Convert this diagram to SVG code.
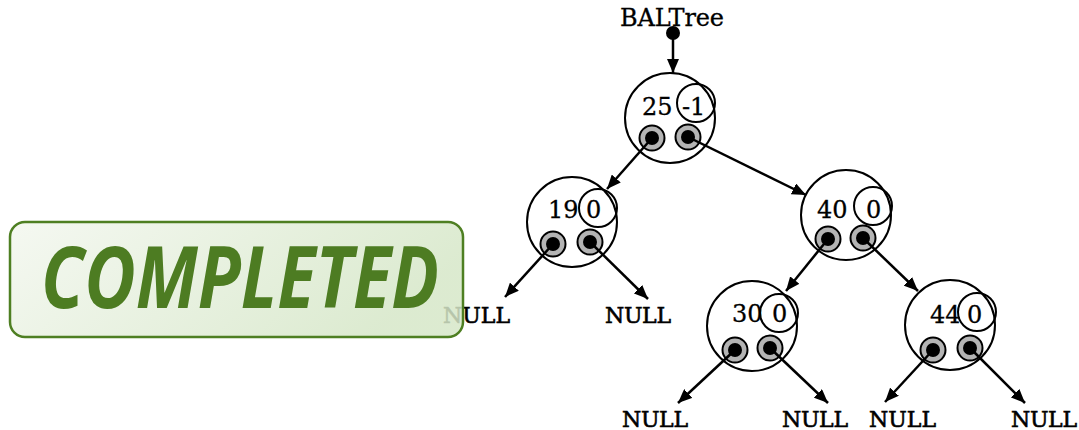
<svg xmlns="http://www.w3.org/2000/svg" width="1079" height="430" viewBox="0 0 1079 430">
<style>
.t{font-family:"DejaVu Serif","Liberation Serif",serif;font-size:24px;fill:#000;stroke:#000;stroke-width:0.3}
.nl{font-family:"DejaVu Serif","Liberation Serif",serif;font-size:22px;fill:#000;stroke:#000;stroke-width:0.6}
.big{fill:#fff;stroke:#000;stroke-width:2}
.bal{fill:none;stroke:#000;stroke-width:2}
.po{fill:#b4b4b4;stroke:#000;stroke-width:2}
.pi{fill:#000}
.e{stroke:#000;stroke-width:2.5;fill:none;marker-end:url(#ah)}
</style>
<defs>
<marker id="ah" markerUnits="userSpaceOnUse" markerWidth="16" markerHeight="12" refX="14" refY="6" orient="auto">
<path d="M0,0 L14,6 L0,12 Z" fill="#000"/>
</marker>
<linearGradient id="g" x1="0" y1="0" x2="1" y2="0.3">
<stop offset="0" stop-color="#f3f7ef"/>
<stop offset="1" stop-color="#d6e7c8"/>
</linearGradient>
</defs>
<rect width="1079" height="430" fill="#fff"/>
<text class="t" x="620" y="26" textLength="104">BALTree</text>
<g id="nulls">
<text class="nl" x="443" y="323" textLength="67">NULL</text>
<text class="nl" x="605" y="323" textLength="66">NULL</text>
<text class="nl" x="622" y="427" textLength="66">NULL</text>
<text class="nl" x="782" y="427" textLength="66">NULL</text>
<text class="nl" x="869" y="427" textLength="67">NULL</text>
<text class="nl" x="1011" y="427" textLength="66">NULL</text>
</g>
<g id="n25">
<circle class="big" cx="670" cy="118" r="45"/>
<circle class="bal" cx="696" cy="103" r="19"/>
<text class="t" x="642" y="115">25</text>
<text class="t" x="682" y="115">-1</text>
<circle class="po" cx="652" cy="138" r="12.5"/><circle class="pi" cx="652" cy="138" r="7"/>
<circle class="po" cx="688" cy="137" r="12.5"/><circle class="pi" cx="688" cy="137" r="7"/>
</g>
<g id="n19">
<circle class="big" cx="572" cy="222" r="45"/>
<circle class="bal" cx="598" cy="208" r="19"/>
<text class="t" x="548" y="218">19</text>
<text class="t" x="586" y="218">0</text>
<circle class="po" cx="553" cy="244" r="12.5"/><circle class="pi" cx="553" cy="244" r="7"/>
<circle class="po" cx="590" cy="242" r="12.5"/><circle class="pi" cx="590" cy="242" r="7"/>
</g>
<g id="n40">
<circle class="big" cx="846" cy="215" r="45"/>
<circle class="bal" cx="873" cy="206" r="19"/>
<text class="t" x="817" y="218">40</text>
<text class="t" x="866" y="218">0</text>
<circle class="po" cx="828" cy="239" r="12.5"/><circle class="pi" cx="828" cy="239" r="7"/>
<circle class="po" cx="863" cy="238" r="12.5"/><circle class="pi" cx="863" cy="238" r="7"/>
</g>
<g id="n30">
<circle class="big" cx="752" cy="326" r="45"/>
<circle class="bal" cx="779" cy="313" r="19"/>
<text class="t" x="732" y="322">30</text>
<text class="t" x="772" y="322">0</text>
<circle class="po" cx="735" cy="350" r="12.5"/><circle class="pi" cx="735" cy="350" r="7"/>
<circle class="po" cx="770" cy="348" r="12.5"/><circle class="pi" cx="770" cy="348" r="7"/>
</g>
<g id="n44">
<circle class="big" cx="950" cy="325" r="45"/>
<circle class="bal" cx="977" cy="312" r="19"/>
<text class="t" x="930" y="323">44</text>
<text class="t" x="967" y="323">0</text>
<circle class="po" cx="933" cy="350" r="12.5"/><circle class="pi" cx="933" cy="350" r="7"/>
<circle class="po" cx="970" cy="348" r="12.5"/><circle class="pi" cx="970" cy="348" r="7"/>
</g>
<g id="connectors">
<circle cx="673" cy="33" r="7" fill="#000"/>
<line class="e" x1="673" y1="33" x2="673" y2="73"/>
<line class="e" x1="652" y1="138" x2="607" y2="189"/>
<line class="e" x1="688" y1="137" x2="806" y2="195"/>
<line class="e" x1="553" y1="244" x2="505" y2="297"/>
<line class="e" x1="590" y1="242" x2="648" y2="299"/>
<line class="e" x1="828" y1="239" x2="786" y2="291"/>
<line class="e" x1="863" y1="238" x2="918" y2="291"/>
<line class="e" x1="735" y1="350" x2="678" y2="403"/>
<line class="e" x1="770" y1="348" x2="828" y2="403"/>
<line class="e" x1="933" y1="350" x2="885" y2="402"/>
<line class="e" x1="970" y1="348" x2="1025" y2="403"/>
</g>
<g id="completed">
<rect x="10" y="222" width="453" height="115" rx="15" ry="15" fill="url(#g)" fill-opacity="0.85" stroke="#4e7f22" stroke-width="2.5"/>
<text x="41" y="308" font-family="'Open Sans','Noto Sans',sans-serif" font-weight="bold" font-style="italic" font-size="86" fill="#4d7c22" textLength="398" lengthAdjust="spacingAndGlyphs">COMPLETED</text>
</g>
</svg>
